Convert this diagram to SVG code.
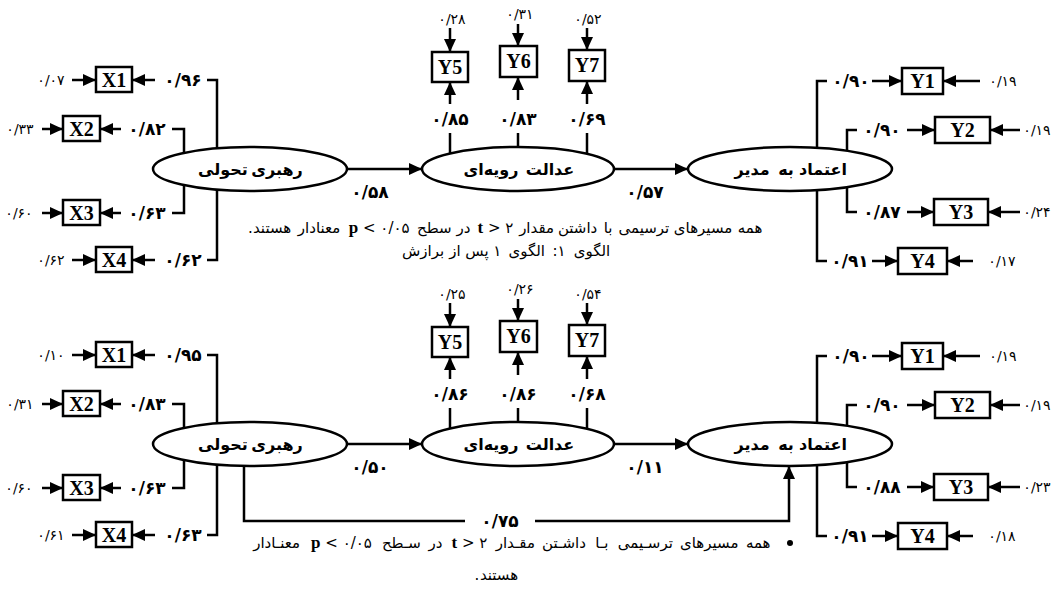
<svg xmlns="http://www.w3.org/2000/svg" width="1057" height="599" viewBox="0 0 1057 599">
<style>
.ln{stroke:#000;stroke-width:2.5;fill:none}
.ar{stroke:#000;stroke-width:2.5;fill:none;marker-end:url(#ah)}
.bx{fill:#fff;stroke:#000;stroke-width:2.5}
.el{fill:#fff;stroke:#000;stroke-width:2.5}
.bt{font-family:"Liberation Serif",serif;font-weight:bold;font-size:20px;text-anchor:middle}
.ld{font-family:"DejaVu Sans",sans-serif;font-weight:bold;font-size:17px;text-anchor:middle}
.er{font-family:"DejaVu Sans",sans-serif;font-size:14px;text-anchor:middle}
.ew{font-family:"DejaVu Sans",sans-serif;font-weight:bold;font-size:16px;text-anchor:middle}
.cw{font-family:"DejaVu Sans",sans-serif;font-size:15px;text-anchor:middle}
.lat{font-family:"Liberation Serif",serif;font-weight:bold;font-size:17px}
</style>
<defs>
<marker id="ah" markerUnits="userSpaceOnUse" markerWidth="13" markerHeight="12" refX="13" refY="6" orient="auto"><path d="M0,0 L13,6 L0,12 z" fill="#000"/></marker>
</defs>
<rect width="1057" height="599" fill="#fff"/>

<g id="model1">
<g id="connectors1">
<line class="ar" x1="72" y1="80" x2="96" y2="80"/>
<line class="ar" x1="155" y1="80" x2="132" y2="80"/>
<path class="ln" d="M207,80 H217 V169"/>
<line class="ar" x1="42" y1="129" x2="63" y2="129"/>
<line class="ar" x1="121" y1="129" x2="100" y2="129"/>
<path class="ln" d="M172,129 H184 V169"/>
<line class="ar" x1="42" y1="213" x2="63" y2="213"/>
<line class="ar" x1="121" y1="213" x2="100" y2="213"/>
<path class="ln" d="M172,213 H184 V169"/>
<line class="ar" x1="72" y1="260" x2="96" y2="260"/>
<line class="ar" x1="155" y1="260" x2="132" y2="260"/>
<path class="ln" d="M207,260 H217 V169"/>
<line class="ar" x1="347" y1="169" x2="422" y2="169"/>
<line class="ar" x1="614" y1="169" x2="688" y2="169"/>
<line class="ar" x1="450" y1="28" x2="450" y2="52"/>
<line class="ar" x1="450" y1="104" x2="450" y2="82"/>
<line class="ln" x1="450" y1="133" x2="450" y2="169"/>
<line class="ar" x1="518" y1="24" x2="518" y2="46"/>
<line class="ar" x1="518" y1="100" x2="518" y2="77"/>
<line class="ln" x1="518" y1="133" x2="518" y2="169"/>
<line class="ar" x1="587" y1="28" x2="587" y2="50"/>
<line class="ar" x1="587" y1="104" x2="587" y2="81"/>
<line class="ln" x1="587" y1="133" x2="587" y2="169"/>
<path class="ln" d="M827,81 H817 V169"/>
<line class="ar" x1="872" y1="81" x2="902" y2="81"/>
<line class="ar" x1="980" y1="81" x2="943" y2="81"/>
<path class="ln" d="M857,130 H847 V169"/>
<line class="ar" x1="907" y1="130" x2="935" y2="130"/>
<line class="ar" x1="1020" y1="130" x2="990" y2="130"/>
<path class="ln" d="M857,212 H847 V169"/>
<line class="ar" x1="907" y1="212" x2="934" y2="212"/>
<line class="ar" x1="1020" y1="212" x2="988" y2="212"/>
<path class="ln" d="M827,261 H817 V169"/>
<line class="ar" x1="872" y1="261" x2="898" y2="261"/>
<line class="ar" x1="973" y1="261" x2="947" y2="261"/>
</g>
<g id="m1-labels">
<text class="er" x="51" y="85">۰/۰۷</text>
<text class="er" x="20" y="134">۰/۳۳</text>
<text class="er" x="19" y="218">۰/۶۰</text>
<text class="er" x="51" y="265">۰/۶۲</text>
<text class="ld" x="183" y="86">۰/۹۶</text>
<text class="ld" x="147" y="135">۰/۸۲</text>
<text class="ld" x="147" y="219">۰/۶۳</text>
<text class="ld" x="183" y="266">۰/۶۲</text>
<text class="ld" x="370" y="198">۰/۵۸</text>
<text class="ld" x="645" y="198">۰/۵۷</text>
<text class="er" x="452" y="24">۰/۲۸</text>
<text class="er" x="520" y="19">۰/۳۱</text>
<text class="er" x="588" y="24">۰/۵۲</text>
<text class="ld" x="450" y="125">۰/۸۵</text>
<text class="ld" x="518" y="125">۰/۸۳</text>
<text class="ld" x="587" y="125">۰/۶۹</text>
<text class="ld" x="851" y="87">۰/۹۰</text>
<text class="ld" x="882" y="136">۰/۹۰</text>
<text class="ld" x="882" y="218">۰/۸۷</text>
<text class="ld" x="850" y="267">۰/۹۱</text>
<text class="er" x="1003" y="86">۰/۱۹</text>
<text class="er" x="1037" y="135">۰/۱۹</text>
<text class="er" x="1037" y="217">۰/۲۴</text>
<text class="er" x="1002" y="266">۰/۱۷</text>
</g>
<g id="m1-X1"><rect class="bx" x="96" y="67" width="36" height="25"/><text class="bt" x="114" y="87">X1</text></g>
<g id="m1-X2"><rect class="bx" x="63" y="116" width="37" height="25"/><text class="bt" x="81.5" y="136">X2</text></g>
<g id="m1-X3"><rect class="bx" x="63" y="200" width="37" height="25"/><text class="bt" x="81.5" y="220">X3</text></g>
<g id="m1-X4"><rect class="bx" x="96" y="247" width="36" height="25"/><text class="bt" x="114" y="267">X4</text></g>
<g id="m1-Y5"><rect class="bx" x="432" y="52" width="36" height="30"/><text class="bt" x="450" y="74">Y5</text></g>
<g id="m1-Y6"><rect class="bx" x="500" y="46" width="37" height="31"/><text class="bt" x="518.5" y="68">Y6</text></g>
<g id="m1-Y7"><rect class="bx" x="569" y="50" width="36" height="31"/><text class="bt" x="587" y="72">Y7</text></g>
<g id="m1-Y1"><rect class="bx" x="902" y="68" width="41" height="26"/><text class="bt" x="922.5" y="88">Y1</text></g>
<g id="m1-Y2"><rect class="bx" x="935" y="117" width="55" height="26"/><text class="bt" x="962.5" y="137">Y2</text></g>
<g id="m1-Y3"><rect class="bx" x="934" y="199" width="54" height="26"/><text class="bt" x="961" y="219">Y3</text></g>
<g id="m1-Y4"><rect class="bx" x="898" y="248" width="49" height="26"/><text class="bt" x="922.5" y="268">Y4</text></g>
<g id="m1-E1"><ellipse class="el" cx="250" cy="169" rx="97" ry="22"/><text class="ew" x="277" y="175">رهبری</text><text class="ew" x="223" y="175">تحولی</text></g>
<g id="m1-E2"><ellipse class="el" cx="518" cy="169" rx="96" ry="22"/><text class="ew" x="550" y="175">عدالت</text><text class="ew" x="491" y="175">رویه&#x200C;ای</text></g>
<g id="m1-E3"><ellipse class="el" cx="790" cy="169" rx="102" ry="22"/><text class="ew" x="823" y="175">اعتماد</text><text class="ew" x="786" y="175">به</text><text class="ew" x="752" y="175">مدیر</text></g>
<g id="m1-caption">
<text class="cw" x="750" y="233">همه</text>
<text class="cw" x="703.1" y="233">مسیرهای</text>
<text class="cw" x="643.9" y="233">ترسیمی</text>
<text class="cw" x="608" y="233">با</text>
<text class="cw" x="577.6" y="233">داشتن</text>
<text class="cw" x="536.6" y="233">مقدار</text>
<text class="cw" x="495.5" y="233"><tspan class="lat">t</tspan> &gt; ۲</text>
<text class="cw" x="463.5" y="233">در</text>
<text class="cw" x="434.3" y="233">سطح</text>
<text class="cw" x="379.2" y="233"><tspan class="lat">p</tspan> &lt; ۰/۰۵</text>
<text class="cw" x="319.1" y="233">معنادار</text>
<text class="cw" x="272.1" y="233">هستند</text>
<text class="cw" x="250.4" y="233">.</text>
<text class="cw" x="592" y="256">الگوی</text>
<text class="cw" x="559" y="256">:۱</text>
<text class="cw" x="526.7" y="256">الگوی</text>
<text class="cw" x="497.3" y="256">۱</text>
<text class="cw" x="477" y="256">پس</text>
<text class="cw" x="455" y="256">از</text>
<text class="cw" x="423" y="256">برازش</text>
</g>
</g>

<g id="model2" transform="translate(0,275)">
<g id="connectors2">
<line class="ar" x1="72" y1="80" x2="96" y2="80"/>
<line class="ar" x1="155" y1="80" x2="132" y2="80"/>
<path class="ln" d="M207,80 H217 V169"/>
<line class="ar" x1="42" y1="129" x2="63" y2="129"/>
<line class="ar" x1="121" y1="129" x2="100" y2="129"/>
<path class="ln" d="M172,129 H184 V169"/>
<line class="ar" x1="42" y1="213" x2="63" y2="213"/>
<line class="ar" x1="121" y1="213" x2="100" y2="213"/>
<path class="ln" d="M172,213 H184 V169"/>
<line class="ar" x1="72" y1="260" x2="96" y2="260"/>
<line class="ar" x1="155" y1="260" x2="132" y2="260"/>
<path class="ln" d="M207,260 H217 V169"/>
<line class="ar" x1="347" y1="169" x2="422" y2="169"/>
<line class="ar" x1="614" y1="169" x2="688" y2="169"/>
<line class="ar" x1="450" y1="28" x2="450" y2="52"/>
<line class="ar" x1="450" y1="104" x2="450" y2="82"/>
<line class="ln" x1="450" y1="133" x2="450" y2="169"/>
<line class="ar" x1="518" y1="24" x2="518" y2="46"/>
<line class="ar" x1="518" y1="100" x2="518" y2="77"/>
<line class="ln" x1="518" y1="133" x2="518" y2="169"/>
<line class="ar" x1="587" y1="28" x2="587" y2="50"/>
<line class="ar" x1="587" y1="104" x2="587" y2="81"/>
<line class="ln" x1="587" y1="133" x2="587" y2="169"/>
<path class="ln" d="M827,81 H817 V169"/>
<line class="ar" x1="872" y1="81" x2="902" y2="81"/>
<line class="ar" x1="980" y1="81" x2="943" y2="81"/>
<path class="ln" d="M857,130 H847 V169"/>
<line class="ar" x1="907" y1="130" x2="935" y2="130"/>
<line class="ar" x1="1020" y1="130" x2="990" y2="130"/>
<path class="ln" d="M857,212 H847 V169"/>
<line class="ar" x1="907" y1="212" x2="934" y2="212"/>
<line class="ar" x1="1020" y1="212" x2="988" y2="212"/>
<path class="ln" d="M827,261 H817 V169"/>
<line class="ar" x1="872" y1="261" x2="898" y2="261"/>
<line class="ar" x1="973" y1="261" x2="947" y2="261"/>
<path class="ln" d="M244,169 V246 H465"/>
<path class="ar" d="M535,246 H789 V191"/>
</g>
<g id="m2-labels">
<text class="er" x="51" y="85">۰/۱۰</text>
<text class="er" x="20" y="134">۰/۳۱</text>
<text class="er" x="19" y="218">۰/۶۰</text>
<text class="er" x="51" y="265">۰/۶۱</text>
<text class="ld" x="183" y="86">۰/۹۵</text>
<text class="ld" x="147" y="135">۰/۸۳</text>
<text class="ld" x="147" y="219">۰/۶۳</text>
<text class="ld" x="183" y="266">۰/۶۳</text>
<text class="ld" x="370" y="198">۰/۵۰</text>
<text class="ld" x="645" y="198">۰/۱۱</text>
<text class="ld" x="500" y="252">۰/۷۵</text>
<text class="er" x="452" y="24">۰/۲۵</text>
<text class="er" x="520" y="19">۰/۲۶</text>
<text class="er" x="588" y="24">۰/۵۴</text>
<text class="ld" x="450" y="125">۰/۸۶</text>
<text class="ld" x="518" y="125">۰/۸۶</text>
<text class="ld" x="587" y="125">۰/۶۸</text>
<text class="ld" x="851" y="87">۰/۹۰</text>
<text class="ld" x="882" y="136">۰/۹۰</text>
<text class="ld" x="882" y="218">۰/۸۸</text>
<text class="ld" x="850" y="267">۰/۹۱</text>
<text class="er" x="1003" y="86">۰/۱۹</text>
<text class="er" x="1037" y="135">۰/۱۹</text>
<text class="er" x="1037" y="217">۰/۲۳</text>
<text class="er" x="1002" y="266">۰/۱۸</text>
</g>
<g id="m2-X1"><rect class="bx" x="96" y="67" width="36" height="25"/><text class="bt" x="114" y="87">X1</text></g>
<g id="m2-X2"><rect class="bx" x="63" y="116" width="37" height="25"/><text class="bt" x="81.5" y="136">X2</text></g>
<g id="m2-X3"><rect class="bx" x="63" y="200" width="37" height="25"/><text class="bt" x="81.5" y="220">X3</text></g>
<g id="m2-X4"><rect class="bx" x="96" y="247" width="36" height="25"/><text class="bt" x="114" y="267">X4</text></g>
<g id="m2-Y5"><rect class="bx" x="432" y="52" width="36" height="30"/><text class="bt" x="450" y="74">Y5</text></g>
<g id="m2-Y6"><rect class="bx" x="500" y="46" width="37" height="31"/><text class="bt" x="518.5" y="68">Y6</text></g>
<g id="m2-Y7"><rect class="bx" x="569" y="50" width="36" height="31"/><text class="bt" x="587" y="72">Y7</text></g>
<g id="m2-Y1"><rect class="bx" x="902" y="68" width="41" height="26"/><text class="bt" x="922.5" y="88">Y1</text></g>
<g id="m2-Y2"><rect class="bx" x="935" y="117" width="55" height="26"/><text class="bt" x="962.5" y="137">Y2</text></g>
<g id="m2-Y3"><rect class="bx" x="934" y="199" width="54" height="26"/><text class="bt" x="961" y="219">Y3</text></g>
<g id="m2-Y4"><rect class="bx" x="898" y="248" width="49" height="26"/><text class="bt" x="922.5" y="268">Y4</text></g>
<g id="m2-E1"><ellipse class="el" cx="250" cy="169" rx="97" ry="22"/><text class="ew" x="277" y="175">رهبری</text><text class="ew" x="223" y="175">تحولی</text></g>
<g id="m2-E2"><ellipse class="el" cx="518" cy="169" rx="96" ry="22"/><text class="ew" x="550" y="175">عدالت</text><text class="ew" x="491" y="175">رویه&#x200C;ای</text></g>
<g id="m2-E3"><ellipse class="el" cx="790" cy="169" rx="102" ry="22"/><text class="ew" x="823" y="175">اعتماد</text><text class="ew" x="786" y="175">به</text><text class="ew" x="752" y="175">مدیر</text></g>
</g>
<g id="m2-caption">
<circle cx="790" cy="543" r="3" fill="#000"/>
<text class="cw" x="758.2" y="548">همه</text>
<text class="cw" x="709.3" y="548">مسیرهای</text>
<text class="cw" x="645.3" y="548">ترسـیمی</text>
<text class="cw" x="601.9" y="548">بـا</text>
<text class="cw" x="564" y="548">داشـتن</text>
<text class="cw" x="515.3" y="548">مقـدار</text>
<text class="cw" x="469.5" y="548"><tspan class="lat">t</tspan> &gt; ۲</text>
<text class="cw" x="435.4" y="548">در</text>
<text class="cw" x="401.4" y="548">سـطح</text>
<text class="cw" x="341.5" y="548"><tspan class="lat">p</tspan> &lt; ۰/۰۵</text>
<text class="cw" x="276.6" y="548">معنـادار</text>
<text class="cw" x="499" y="580">هستند</text>
<text class="cw" x="477" y="580">.</text>
</g>
</svg>
